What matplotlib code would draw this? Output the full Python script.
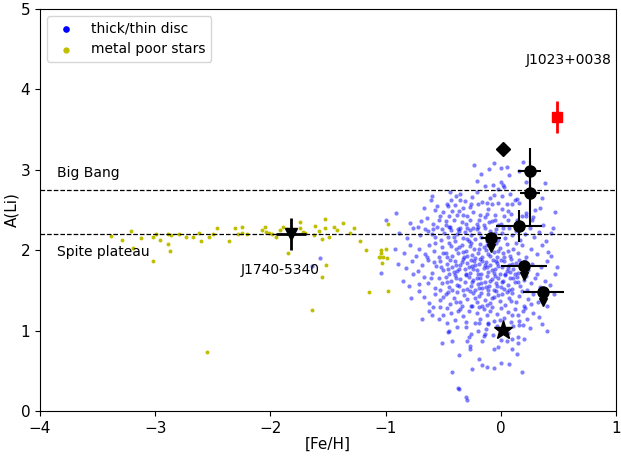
import matplotlib.pyplot as plt
import numpy as np

# thick/thin disc stars: [Fe/H] and A(Li)
disc_feh = [
    -0.23, -0.10, -0.17, 0.19, 0.00, 0.05, 0.07, 0.16, -0.21, -0.06,
    0.38, 0.22, 0.00, 0.02, -0.07, 0.03, -0.02, -0.14, -0.06, 0.14,
    0.16, 0.36, 0.34, 0.47, 0.22, 0.22, 0.28, 0.37, 0.01, 0.05,
    0.10, 0.12, 0.06, 0.01, -0.05, -0.11, -0.12, -0.08, -0.02, -0.10,
    -0.05, 0.00, 0.06, -0.14, 0.18, -0.60, -0.61, -0.67, -0.91, -0.44,
    -0.39, -0.35, -0.35, -0.21, -0.47, -0.46, -0.33, -0.27, -0.20, -0.16,
    -0.50, -0.42, -0.38, -0.29, -0.24, -0.18, -0.54, -0.48, -0.41, -0.34,
    -0.27, -0.21, -0.59, -0.59, -0.51, -0.44, -0.37, -0.29, -0.21, -0.15,
    -0.72, -0.66, 0.27, 0.13, 0.09, -0.31, -0.25, -0.53, -0.64, -0.79,
    -0.57, -0.45, -0.36, -0.30, -0.12, -0.08, 0.03, -0.26, -0.40, -0.48,
    -0.69, -0.02, 0.14, -0.19, -0.33, -0.55, -0.43, -0.09, 0.08, 0.30,
    # 2.1 - 2.3
    -0.88, -0.81, -0.76, -0.70, -0.63, -0.57, -0.55, -0.52, -0.49, -0.46,
    -0.43, -0.40, -0.38, -0.35, -0.33, -0.31, -0.28, -0.26, -0.24, -0.22,
    -0.19, -0.17, -0.14, -0.12, -0.09, -0.07, -0.04, -0.02, 0.01, 0.04,
    0.07, 0.10, 0.13, 0.17, 0.21, 0.25, 0.29, 0.33, 0.39, 0.44,
    -0.45, -0.36, -0.29, -0.20, -0.11, -0.05, 0.02, -0.60, -0.41, -0.27,
    # 1.9 - 2.1
    -0.92, -0.84, -0.79, -0.74, -0.71, -0.66, -0.62, -0.58, -0.54, -0.51,
    -0.48, -0.45, -0.42, -0.39, -0.37, -0.34, -0.32, -0.30, -0.27, -0.25,
    -0.23, -0.20, -0.18, -0.16, -0.13, -0.11, -0.08, -0.06, -0.03, -0.01,
    0.02, 0.05, 0.08, 0.11, 0.15, 0.18, 0.22, 0.26, 0.31, 0.36,
    0.41, -0.47, -0.36, -0.22, -0.15, -0.04, 0.06, -0.57, -0.29, -0.09,
    -0.43, -0.33, -0.19, -0.02, 0.13, -0.64, -0.50, -0.26, -0.12, 0.03,
    # 1.7 - 1.9
    -0.89, -0.82, -0.77, -0.72, -0.68, -0.63, -0.60, -0.56, -0.53, -0.50,
    -0.47, -0.45, -0.42, -0.40, -0.38, -0.35, -0.33, -0.31, -0.29, -0.27,
    -0.25, -0.23, -0.21, -0.19, -0.17, -0.15, -0.13, -0.11, -0.09, -0.07,
    -0.05, -0.03, -0.01, 0.01, 0.03, 0.05, 0.07, 0.09, 0.11, 0.13,
    0.15, 0.18, 0.21, 0.24, 0.27, 0.31, 0.35, 0.40, 0.44, 0.49,
    -0.44, -0.36, -0.30, -0.24, -0.18, -0.12, -0.06, 0.00, 0.06, 0.12,
    -0.41, -0.34, -0.26, -0.20, -0.14, -0.08, -0.02, 0.04, 0.10, 0.19,
    -0.52, -0.46, -0.39, -0.28, -0.16, -0.04, 0.08, 0.16, -0.58, -0.22,
    # 1.5 - 1.7
    -0.85, -0.80, -0.76, -0.71, -0.67, -0.61, -0.57, -0.54, -0.51, -0.48,
    -0.45, -0.43, -0.40, -0.38, -0.35, -0.33, -0.31, -0.28, -0.26, -0.24,
    -0.22, -0.20, -0.18, -0.16, -0.14, -0.12, -0.10, -0.08, -0.06, -0.04,
    -0.02, 0.00, 0.02, 0.04, 0.06, 0.08, 0.10, 0.12, 0.14, 0.17,
    0.20, 0.23, 0.26, 0.30, 0.34, 0.38, 0.43, -0.36, -0.29, -0.21,
    -0.13, -0.05, 0.03, 0.11, -0.42, -0.30, -0.17, -0.09, 0.01, 0.07,
    -0.47, -0.39, -0.25, -0.11, 0.15, -0.63, -0.53, -0.19, -0.03, 0.22,
    # 1.3 - 1.5
    -0.71, -0.67, -0.62, -0.57, -0.53, -0.48, -0.44, -0.41, -0.38, -0.35,
    -0.32, -0.29, -0.26, -0.24, -0.21, -0.19, -0.16, -0.14, -0.11, -0.09,
    -0.06, -0.04, -0.01, 0.01, 0.04, 0.07, 0.10, 0.13, 0.16, 0.20,
    0.24, 0.28, 0.32, 0.38, -0.78, -0.59, -0.46, -0.34, -0.22, -0.12,
    -0.02, 0.09, -0.27, -0.17, 0.05, -0.39, -0.08, 0.18, -0.50, 0.26,
    # 1.1 - 1.3
    -0.62, -0.60, -0.54, -0.53, -0.47, -0.43, -0.37, -0.33, -0.28, -0.25,
    -0.21, -0.18, -0.15, -0.12, -0.09, -0.06, -0.03, 0.00, 0.03, 0.06,
    0.09, 0.12, 0.15, 0.19, 0.23, 0.28, 0.33, -0.68, -0.40, -0.19,
    -0.01, 0.10, -0.30, -0.08, 0.21, -0.50, 0.36, -0.11, 0.16, -0.35,
    # below 1.1 and outliers
    -0.30, -0.46, -0.45, -0.47, -0.22, -0.19, -0.11, -0.07, -0.14, -0.13,
    0.11, 0.16, 0.19, 0.40, -0.28, -0.26, -0.15, -0.20, 0.15, 0.10,
    0.20, 0.25, -0.38, 0.06, -0.03, -0.51, -0.27, -0.27, -0.42, -0.29,
    -0.16, 0.00, 0.05, 0.15, 0.10, -0.02, -0.06, 0.14, -0.36, -0.19,
    -0.16, -0.25, 0.00, 0.07, -0.12, -0.06, 0.18, -0.42, -0.37, -0.30,
    -0.36, -0.29, -1.57, -1.64, -1.04, -1.00, 0.45, 0.47, 0.46, 0.40,
]
disc_ali = [
    3.06, 3.01, 2.95, 3.10, 3.02, 3.03, 2.94, 2.99, 2.86, 3.08,
    2.83, 2.85, 2.85, 2.81, 2.81, 2.78, 2.76, 2.80, 2.69, 2.64,
    2.59, 2.65, 2.53, 2.47, 2.46, 2.42, 2.41, 2.31, 2.68, 2.58,
    2.57, 2.63, 2.49, 2.51, 2.44, 2.51, 2.59, 2.57, 2.59, 2.35,
    2.38, 2.32, 2.38, 2.41, 2.43, 2.68, 2.63, 2.52, 2.46, 2.73,
    2.67, 2.63, 2.70, 2.73, 2.58, 2.55, 2.53, 2.54, 2.57, 2.60,
    2.47, 2.49, 2.44, 2.42, 2.47, 2.44, 2.38, 2.36, 2.38, 2.35,
    2.37, 2.32, 2.32, 2.26, 2.26, 2.29, 2.26, 2.27, 2.26, 2.31,
    2.29, 2.26, 2.37, 2.33, 2.45, 2.61, 2.66, 2.43, 2.40, 2.34,
    2.50, 2.42, 2.49, 2.33, 2.45, 2.36, 2.42, 2.58, 2.56, 2.31,
    2.36, 2.31, 2.38, 2.38, 2.44, 2.55, 2.62, 2.65, 2.70, 2.50,
    # 2.1 - 2.3
    2.22, 2.15, 2.27, 2.19, 2.24, 2.17, 2.29, 2.13, 2.21, 2.16,
    2.25, 2.12, 2.20, 2.28, 2.15, 2.23, 2.11, 2.19, 2.27, 2.14,
    2.22, 2.16, 2.28, 2.11, 2.24, 2.18, 2.26, 2.13, 2.21, 2.15,
    2.28, 2.19, 2.24, 2.13, 2.20, 2.27, 2.16, 2.23, 2.12, 2.21,
    2.29, 2.24, 2.14, 2.29, 2.17, 2.22, 2.27, 2.20, 2.17, 2.25,
    # 1.9 - 2.1
    2.02, 1.96, 2.07, 1.93, 2.01, 1.95, 2.06, 1.99, 1.92, 2.04,
    1.97, 2.09, 1.93, 2.01, 1.96, 2.07, 1.91, 1.99, 2.05, 1.94,
    2.02, 1.97, 2.08, 1.92, 2.00, 1.95, 2.06, 1.98, 1.91, 2.03,
    1.96, 2.08, 1.93, 2.01, 1.97, 2.06, 1.92, 2.02, 1.95, 2.07,
    1.98, 1.91, 2.04, 1.90, 2.04, 2.09, 1.99, 2.09, 1.93, 1.93,
    2.05, 1.98, 2.01, 1.99, 2.09, 1.91, 1.96, 2.09, 2.07, 1.92,
    # 1.7 - 1.9
    1.83, 1.78, 1.86, 1.74, 1.81, 1.88, 1.72, 1.80, 1.87, 1.75,
    1.83, 1.71, 1.79, 1.86, 1.74, 1.82, 1.89, 1.77, 1.84, 1.72,
    1.80, 1.87, 1.75, 1.83, 1.70, 1.78, 1.85, 1.73, 1.81, 1.88,
    1.76, 1.84, 1.71, 1.79, 1.86, 1.74, 1.82, 1.89, 1.77, 1.84,
    1.72, 1.80, 1.87, 1.75, 1.83, 1.71, 1.79, 1.86, 1.93, 1.79,
    1.88, 1.76, 1.70, 1.77, 1.89, 1.79, 1.72, 1.88, 1.78, 1.71,
    1.73, 1.85, 1.88, 1.71, 1.82, 1.75, 1.80, 1.70, 1.83, 1.76,
    1.79, 1.77, 1.81, 1.79, 1.86, 1.87, 1.73, 1.88, 1.85, 1.82,
    # 1.5 - 1.7
    1.62, 1.55, 1.70, 1.58, 1.67, 1.65, 1.53, 1.65, 1.59, 1.67,
    1.54, 1.62, 1.69, 1.57, 1.64, 1.51, 1.60, 1.67, 1.55, 1.63,
    1.50, 1.58, 1.66, 1.53, 1.61, 1.68, 1.56, 1.64, 1.51, 1.59,
    1.66, 1.54, 1.62, 1.69, 1.57, 1.65, 1.52, 1.60, 1.67, 1.55,
    1.63, 1.51, 1.59, 1.66, 1.54, 1.62, 1.57, 1.55, 1.52, 1.65,
    1.54, 1.68, 1.52, 1.66, 1.51, 1.69, 1.59, 1.62, 1.60, 1.50,
    1.60, 1.65, 1.61, 1.51, 1.60, 1.59, 1.51, 1.53, 1.56, 1.68,
    # 1.3 - 1.5
    1.49, 1.42, 1.34, 1.46, 1.38, 1.45, 1.33, 1.41, 1.48, 1.36,
    1.44, 1.39, 1.31, 1.47, 1.35, 1.43, 1.30, 1.38, 1.46, 1.34,
    1.42, 1.49, 1.37, 1.45, 1.32, 1.40, 1.47, 1.35, 1.43, 1.31,
    1.39, 1.46, 1.36, 1.42, 1.40, 1.29, 1.48, 1.30, 1.41, 1.32,
    1.44, 1.37, 1.49, 1.47, 1.48, 1.35, 1.40, 1.49, 1.42, 1.33,
    # 1.1 - 1.3
    1.25, 1.20, 1.15, 1.29, 1.28, 1.22, 1.24, 1.18, 1.24, 1.30,
    1.22, 1.14, 1.27, 1.19, 1.25, 1.12, 1.21, 1.28, 1.16, 1.23,
    1.11, 1.27, 1.19, 1.25, 1.14, 1.22, 1.17, 1.15, 1.13, 1.29,
    1.13, 1.20, 1.11, 1.29, 1.28, 1.19, 1.08, 1.10, 1.12, 1.27,
    # below 1.1 and outliers
    1.04, 0.98, 1.00, 1.09, 1.09, 1.10, 1.08, 0.95, 0.96, 1.02,
    1.06, 1.07, 1.07, 1.00, 0.92, 0.96, 0.93, 1.00, 0.92, 0.90,
    0.90, 1.03, 1.05, 0.97, 1.06, 0.84, 0.81, 0.77, 0.87, 0.87,
    0.87, 0.88, 0.87, 0.84, 0.77, 0.79, 0.77, 0.71, 0.70, 0.65,
    0.57, 0.52, 0.60, 0.58, 0.55, 0.54, 0.49, 0.48, 0.29, 0.17,
    0.27, 0.14, 1.90, 1.80, 1.72, 2.37, 2.27, 1.70, 1.46, 1.30,
]

# metal poor stars
mp_feh = [
    -3.38, -3.29, -3.21, -3.19, -3.12, -3.02, -3.02, -2.99, -2.96, -2.89,
    -2.87, -2.89, -2.86, -2.79, -2.73, -2.67, -2.62, -2.60, -2.53, -2.50,
    -2.46, -2.36, -2.31, -2.25, -2.25, -2.28, -2.20, -2.55, -2.07, -2.05,
    -2.04, -2.01, -1.99, -1.95, -1.92, -1.89, -1.86, -1.85, -1.74, -1.74,
    -1.72, -1.70, -1.64, -1.61, -1.58, -1.62, -1.55, -1.53, -1.53, -1.52,
    -1.55, -1.49, -1.45, -1.42, -1.37, -1.31, -1.27, -1.22, -1.17, -1.14,
    -1.06, -1.04, -1.03, -1.00, -1.04, -1.02, -0.99, -1.05, -0.98, -0.98,
]
mp_ali = [
    2.18, 2.13, 2.24, 2.03, 2.15, 1.87, 2.17, 2.20, 2.13, 2.08,
    1.99, 2.20, 2.19, 2.20, 2.17, 2.17, 2.21, 2.12, 2.17, 2.20,
    2.27, 2.12, 2.28, 2.29, 2.22, 2.20, 2.20, 0.74, 2.25, 2.29,
    2.23, 2.21, 2.20, 2.16, 2.25, 2.29, 2.26, 1.97, 2.35, 2.28,
    2.23, 2.22, 1.26, 2.30, 2.24, 2.19, 2.14, 2.39, 2.28, 1.81,
    1.67, 2.17, 2.29, 2.25, 2.34, 2.21, 2.27, 2.12, 2.00, 1.48,
    1.91, 1.96, 1.84, 2.02, 2.00, 1.92, 1.90, 1.91, 1.49, 2.33,
]

# black circles with error bars (last three are upper limits)
circ_feh = [0.25, 0.25, 0.16, -0.085, 0.20, 0.37]
circ_ali = [2.98, 2.71, 2.30, 2.15, 1.80, 1.48]
circ_xerr = [0.10, 0.087, 0.20, 0.09, 0.20, 0.18]
circ_yerr = [0.29, 0.40, 0.20, 0.0, 0.0, 0.0]
circ_uplim = [False, False, False, True, True, True]

diamond = (0.02, 3.26)
star = (0.02, 1.01)

j1740 = dict(feh=-1.82, ali=2.2, xerr=0.13, yerr=0.2)
j1023 = dict(feh=0.49, ali=3.66, yerr=0.2)

big_bang = 2.75
spite = 2.2

fig = plt.figure(figsize=(6.21, 4.58), dpi=100)
ax = fig.add_axes([40 / 621, 47 / 458, 576 / 621, 402 / 458])

ax.scatter(disc_feh, disc_ali, s=9, c='b', alpha=0.5, linewidths=0,
           label='thick/thin disc')
ax.scatter(mp_feh, mp_ali, s=8, c='y', linewidths=0, label='metal poor stars')

ax.axhline(big_bang, color='k', ls='--', lw=0.9)
ax.axhline(spite, color='k', ls='--', lw=0.9)

ax.errorbar(circ_feh, circ_ali, xerr=circ_xerr, yerr=circ_yerr, fmt='o',
            color='k', ms=8, lw=1.5)
lim = np.array(circ_uplim)
lx = np.array(circ_feh)[lim]
ly = np.array(circ_ali)[lim]
ax.vlines(lx, ly - 0.12, ly, color='k', lw=1.5)
ax.plot(lx, ly - 0.12, 'v', color='k', ms=6)

ax.plot(*diamond, 'D', color='k', ms=7)
ax.plot(*star, '*', color='k', ms=14)

ax.errorbar(j1740['feh'], j1740['ali'], xerr=j1740['xerr'], yerr=j1740['yerr'],
            fmt='v', color='k', ms=9, lw=2)
ax.errorbar(j1023['feh'], j1023['ali'], yerr=j1023['yerr'], fmt='s',
            color='r', ms=7, lw=2)

ax.text(-3.85, 2.96, 'Big Bang', fontsize=10, va='center')
ax.text(-3.85, 1.98, 'Spite plateau', fontsize=10, va='center')
ax.text(-2.26, 1.75, 'J1740-5340', fontsize=10, va='center')
ax.text(0.22, 4.37, 'J1023+0038', fontsize=10, va='center')

ax.set_xlim(-4, 1)
ax.set_ylim(0, 5)
ax.set_xticks([-4, -3, -2, -1, 0, 1])
ax.set_yticks([0, 1, 2, 3, 4, 5])
ax.tick_params(labelsize=11)
ax.set_xlabel('[Fe/H]', fontsize=11, labelpad=1)
ax.set_ylabel('A(Li)', fontsize=11, labelpad=1)

leg = ax.legend(loc='upper left', fontsize=10, markerscale=1.6)
for h in leg.legend_handles:
    h.set_alpha(1)

fig.savefig('out.png', dpi=100)
